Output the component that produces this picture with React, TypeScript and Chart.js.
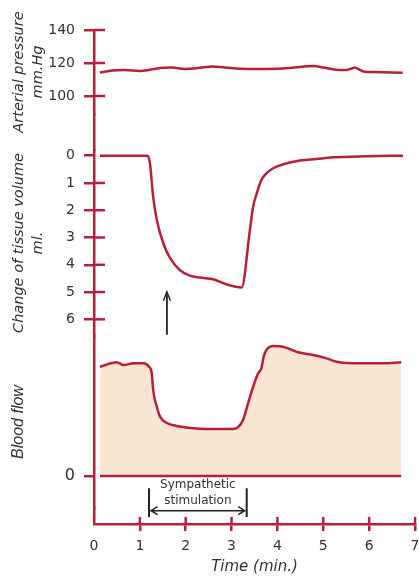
import React, { useEffect, useRef } from 'react';
import { Chart, registerables } from 'chart.js';

Chart.register(...registerables);

// ---- data (time in minutes) ----
const xTickValues = [0, 1, 2, 3, 4, 5, 6, 7];

const pressureTicks = [100, 120, 140];
const pressureTimes = [0.13, 0.4, 0.68, 1.0, 1.2, 1.44, 1.7, 1.98, 2.2, 2.53, 2.85, 3.18, 3.77, 4.27, 4.77, 4.99, 5.2, 5.36, 5.51, 5.62, 5.69, 5.77, 5.88, 6.1, 6.73];
const pressureValues = [114.2, 115.5, 115.8, 115.2, 115.8, 117.0, 117.3, 116.4, 116.7, 117.8, 117.3, 116.5, 116.4, 117.0, 118.2, 117.3, 116.2, 115.8, 115.8, 116.7, 117.2, 116.3, 114.9, 114.5, 114.1];

const volumeTicks = [0, 1, 2, 3, 4, 5, 6];
const volumeTimes = [0.13, 1.17, 1.22, 1.29, 1.37, 1.51, 1.66, 1.87, 2.09, 2.31, 2.6, 2.89, 3.22, 3.4, 3.47, 3.55, 3.65, 3.76, 3.91, 4.12, 4.49, 4.85, 5.21, 5.94, 6.74];
const volumeValues = [0, 0, 0.28, 1.5, 2.36, 3.21, 3.76, 4.19, 4.4, 4.47, 4.53, 4.72, 4.83, 2.72, 1.87, 1.38, 0.89, 0.65, 0.46, 0.32, 0.18, 0.12, 0.06, 0.02, 0];

const flowTicks = [0];
const flowTimes = [0.13, 0.49, 0.65, 0.86, 1.07, 1.2, 1.26, 1.29, 1.37, 1.44, 1.58, 1.8, 2.31, 3.03, 3.14, 3.25, 3.36, 3.47, 3.58, 3.65, 3.7, 3.76, 3.91, 4.12, 4.27, 4.45, 4.78, 5.07, 5.29, 5.8, 6.3, 6.7];
const flowValues = [8.47, 8.81, 8.6, 8.74, 8.74, 8.47, 7.96, 6.67, 5.37, 4.6, 4.13, 3.88, 3.67, 3.64, 3.78, 4.34, 5.64, 6.92, 7.96, 8.35, 9.25, 9.77, 10.08, 10.02, 9.84, 9.59, 9.38, 9.12, 8.86, 8.74, 8.74, 8.81];
const flowBaseTimes = [0.13, 6.7];
const flowBaseValues = [0, 0];

// annotations (data units)
const STIM_START = 1.2;
const STIM_END = 3.33;
const STIM_LABEL = ['Sympathetic', 'stimulation'];
const ARROW_TIME = 1.59;
const ARROW_FROM_ML = 6.57;
const ARROW_TO_ML = 4.99;

// ---- styles ----
const RED = '#b91f3a';
const FILL = '#f8e5d2';
const TEXT = '#333333';
const INK = '#222222';
const VERDANA = '"DejaVu Sans", Verdana, sans-serif';
const ARIAL = '"Liberation Sans", Arial, sans-serif';

const toPoints = (xs: number[], ys: number[]) => xs.map((x, i) => ({ x, y: ys[i] }));

const setTicks = (vals: number[]) => (scale: any) => {
  scale.ticks = vals.map((v) => ({ value: v }));
};

const yCommon = (weight: number, stackWeight: number) => ({
  type: 'linear' as const,
  position: 'left' as const,
  stack: 'left',
  stackWeight,
  weight,
  afterFit: (s: any) => {
    s.width = 94;
  },
  border: { display: true, color: RED, width: 2.5 },
});

const yGrid = {
  display: true,
  drawOnChartArea: false,
  drawTicks: true,
  tickLength: 10,
  color: RED,
  lineWidth: 2.5,
};

const yTicks = (size: number) => ({
  color: TEXT,
  font: { family: VERDANA, size },
  padding: 9,
  autoSkip: false,
});

const annotations = {
  id: 'annotations',
  afterDraw(chart: any) {
    const { ctx, chartArea, scales } = chart;
    const sx = scales.x;
    const sp = scales.yP;
    const sv = scales.yV;
    const sf = scales.yF;
    ctx.save();
    // inner halves of tick marks
    ctx.strokeStyle = RED;
    ctx.lineWidth = 2.5;
    for (const s of [sp, sv]) {
      for (const t of s.ticks) {
        if (t.value === 0) continue;
        const y = s.getPixelForValue(t.value);
        ctx.beginPath();
        ctx.moveTo(chartArea.left, y);
        ctx.lineTo(chartArea.left + 11, y);
        ctx.stroke();
      }
    }
    for (const t of sx.ticks) {
      if (t.value === 0) continue;
      const x = sx.getPixelForValue(t.value);
      ctx.beginPath();
      ctx.moveTo(x, chartArea.bottom);
      ctx.lineTo(x, chartArea.bottom - 7);
      ctx.stroke();
    }

    // up arrow
    ctx.strokeStyle = INK;
    ctx.lineWidth = 1.8;
    const ax = sx.getPixelForValue(ARROW_TIME);
    const ay0 = sv.getPixelForValue(ARROW_FROM_ML);
    const ay1 = sv.getPixelForValue(ARROW_TO_ML);
    ctx.beginPath();
    ctx.moveTo(ax, ay0);
    ctx.lineTo(ax, ay1 + 1);
    ctx.stroke();
    ctx.lineWidth = 1.4;
    ctx.beginPath();
    ctx.moveTo(ax - 3.5, ay1 + 9);
    ctx.lineTo(ax, ay1);
    ctx.lineTo(ax + 3.5, ay1 + 9);
    ctx.stroke();

    // stimulation bracket
    const x0 = sx.getPixelForValue(STIM_START);
    const x1 = sx.getPixelForValue(STIM_END);
    const barTop = sf.getPixelForValue(-0.95);
    const barBot = sf.getPixelForValue(-3.18);
    const arrY = sf.getPixelForValue(-2.69);
    ctx.lineWidth = 2;
    ctx.beginPath();
    ctx.moveTo(x0, barTop);
    ctx.lineTo(x0, barBot);
    ctx.moveTo(x1, barTop);
    ctx.lineTo(x1, barBot);
    ctx.stroke();
    ctx.lineWidth = 1.5;
    ctx.beginPath();
    ctx.moveTo(x0 + 2, arrY);
    ctx.lineTo(x1 - 2, arrY);
    ctx.moveTo(x0 + 8.5, arrY - 4);
    ctx.lineTo(x0 + 2, arrY);
    ctx.lineTo(x0 + 8.5, arrY + 4);
    ctx.moveTo(x1 - 8.5, arrY - 4);
    ctx.lineTo(x1 - 2, arrY);
    ctx.lineTo(x1 - 8.5, arrY + 4);
    ctx.stroke();

    ctx.fillStyle = TEXT;
    ctx.font = `12px ${VERDANA}`;
    ctx.textAlign = 'center';
    ctx.textBaseline = 'middle';
    const cx = sx.getPixelForValue((STIM_START + STIM_END) / 2);
    ctx.fillText(STIM_LABEL[0], cx, sf.getPixelForValue(-0.7));
    ctx.fillText(STIM_LABEL[1], cx, sf.getPixelForValue(-1.9));
    ctx.restore();
  },
};

export default function App() {
  const ref = useRef<HTMLCanvasElement>(null);

  useEffect(() => {
    if (!ref.current) return;
    const chart = new Chart(ref.current, {
      type: 'line',
      data: {
        datasets: [
          {
            data: toPoints(pressureTimes, pressureValues),
            yAxisID: 'yP',
            borderColor: RED,
            borderWidth: 2.5,
            pointRadius: 0,
            tension: 0.4,
            fill: false,
          },
          {
            data: toPoints(volumeTimes, volumeValues),
            yAxisID: 'yV',
            borderColor: RED,
            borderWidth: 2.5,
            pointRadius: 0,
            cubicInterpolationMode: 'monotone',
            fill: false,
          },
          {
            data: toPoints(flowTimes, flowValues),
            yAxisID: 'yF',
            borderColor: RED,
            borderWidth: 2.5,
            pointRadius: 0,
            cubicInterpolationMode: 'monotone',
            fill: 'origin',
            backgroundColor: FILL,
          },
          {
            data: toPoints(flowBaseTimes, flowBaseValues),
            yAxisID: 'yF',
            borderColor: RED,
            borderWidth: 2.5,
            pointRadius: 0,
            fill: false,
            order: -1,
          },
        ],
      } as any,
      options: {
        animation: false,
        responsive: false,
        devicePixelRatio: 1,
        layout: { padding: { top: 30, right: 4, bottom: 0, left: 0 } },
        plugins: {
          legend: { display: false },
          tooltip: { enabled: false },
        },
        scales: {
          x: {
            type: 'linear',
            position: 'bottom',
            min: 0,
            max: 7,
            afterBuildTicks: setTicks(xTickValues),
            afterFit: (s: any) => {
              s.height = 54;
              s.paddingLeft = 0;
              s.paddingRight = 0;
            },
            ticks: {
              color: TEXT,
              font: { family: VERDANA, size: 14 },
              padding: 7,
              maxRotation: 0,
              autoSkip: false,
            },
            grid: {
              display: true,
              drawOnChartArea: false,
              drawTicks: true,
              tickLength: 7,
              lineWidth: 2.5,
              color: (c: any) => (c.tick && c.tick.value === 0 ? 'rgba(0,0,0,0)' : RED),
            },
            border: { display: true, color: RED, width: 2.5 },
            title: {
              display: true,
              text: 'Time (min.)',
              color: TEXT,
              font: { family: VERDANA, size: 15, style: 'italic' },
              padding: { top: 0, bottom: 2 },
            },
          },
          yP: {
            ...yCommon(5, 84),
            min: 140 - 84 / 1.65,
            max: 140,
            afterBuildTicks: setTicks(pressureTicks),
            ticks: yTicks(14),
            grid: yGrid,
            title: {
              display: true,
              text: ['Arterial pressure', 'mm.Hg'],
              color: TEXT,
              font: { family: VERDANA, size: 14.5, style: 'italic', lineHeight: 1.3 },
              padding: { top: 10, bottom: 0 },
            },
          },
          yS1: {
            ...yCommon(4, 36),
            min: 0,
            max: 1,
            ticks: { display: false },
            grid: { display: false },
          },
          yV: {
            ...yCommon(3, 186),
            reverse: true,
            min: -5.7 / 27.27,
            max: 180.3 / 27.27,
            afterBuildTicks: setTicks(volumeTicks),
            ticks: yTicks(14),
            grid: yGrid,
            title: {
              display: true,
              text: ['Change of tissue volume', 'ml.'],
              color: TEXT,
              font: { family: VERDANA, size: 14.5, style: 'italic', lineHeight: 1.3 },
              padding: { top: 10, bottom: 0 },
            },
          },
          yF: {
            ...yCommon(2, 172),
            min: -32 / 12.9,
            max: 140 / 12.9,
            afterBuildTicks: setTicks(flowTicks),
            ticks: yTicks(16),
            grid: yGrid,
            title: {
              display: true,
              text: 'Blood flow',
              color: TEXT,
              font: { family: ARIAL, size: 16, style: 'italic', lineHeight: 1.2 },
              padding: { top: 9, bottom: 0 },
            },
          },
          yS2: {
            ...yCommon(1, 16),
            min: 0,
            max: 1,
            ticks: { display: false },
            grid: { display: false },
          },
        },
      } as any,
      plugins: [annotations],
    });
    return () => chart.destroy();
  }, []);

  return (
    <div style={{ position: 'absolute', left: 0, top: 0, width: 419, height: 578 }}>
      <canvas ref={ref} width={419} height={578} style={{ display: 'block', width: 419, height: 578 }} />
    </div>
  );
}
